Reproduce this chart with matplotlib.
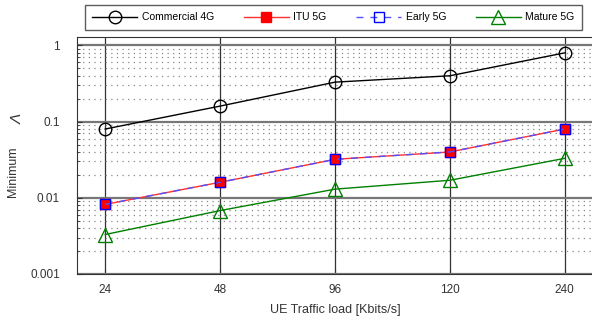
import matplotlib.pyplot as plt
from matplotlib.ticker import LogLocator, FuncFormatter, NullFormatter

plt.rcParams['font.family'] = ['Liberation Sans', 'DejaVu Sans']

loads = ['24', '48', '96', '120', '240']
commercial_4g = [0.08, 0.16, 0.33, 0.40, 0.80]
itu_5g = [0.0082, 0.016, 0.032, 0.040, 0.080]
early_5g = [0.0082, 0.016, 0.032, 0.040, 0.080]
mature_5g = [0.0033, 0.0068, 0.013, 0.017, 0.033]

x = list(range(len(loads)))

fig = plt.figure(figsize=(5.92, 3.2), dpi=100)
ax = fig.add_axes([76.5 / 592, 46 / 320, 517 / 592, 236.7 / 320])

ax.plot(x, commercial_4g, color='black', lw=1, marker='o', ms=9,
        mfc='none', mec='black', mew=1, label='Commercial 4G')
ax.plot(x, itu_5g, color='#ff3030', lw=1, marker='s', ms=7,
        mfc='red', mec='red', label='ITU 5G')
ax.plot(x, early_5g, color='#5050ff', lw=1, ls=(0, (5, 5)), marker='s', ms=7.5,
        mfc='none', mec='blue', mew=1, label='Early 5G')
ax.plot(x, mature_5g, color='green', lw=1, marker='^', ms=10,
        mfc='none', mec='green', mew=1, label='Mature 5G')

ax.set_yscale('log')
ax.set_ylim(0.001, 1.28)
ax.set_xlim(-0.25, 4.25)
ax.set_xticks(x)
ax.set_xticklabels(loads)
ax.yaxis.set_major_locator(LogLocator(base=10, numticks=10))
ax.yaxis.set_major_formatter(FuncFormatter(lambda v, p: '%g' % v))
ax.yaxis.set_minor_locator(LogLocator(base=10, subs=range(2, 10), numticks=20))
ax.yaxis.set_minor_formatter(NullFormatter())

ax.tick_params(axis='both', which='both', direction='in', labelsize=8.5, colors='#333333')
ax.tick_params(axis='x', pad=7)
ax.tick_params(axis='y', pad=12)

ax.grid(axis='x', which='major', color='#333333', lw=0.9)
ax.grid(axis='y', which='major', color='#777777', lw=1.6)
ax.grid(axis='y', which='minor', color='#888888', lw=0.9, ls=(0, (1, 3.5)))
ax.set_axisbelow(True)
for s in ax.spines.values():
    s.set_color('#333333')

ax.set_xlabel('UE Traffic load [Kbits/s]', fontsize=9, color='#333333', labelpad=6)
# y label: "Minimum" plus a larger italic Lambda, as in the original
fig.text(13 / 592, 1 - 172 / 320, 'Minimum', rotation=90, ha='center', va='center',
         fontsize=9, color='#333333')
fig.text(18 / 592, 1 - 118.5 / 320, 'Λ', rotation=90, ha='center', va='center',
         fontsize=11, style='italic', color='#333333')

leg = ax.legend(loc='lower center', bbox_to_anchor=(0.497, 1.03), ncol=4, fontsize=7.5,
                frameon=True, fancybox=False, edgecolor='#333333', handlelength=4.3,
                handletextpad=0.45, columnspacing=2.85, borderpad=0.75, borderaxespad=0)
leg.get_frame().set_linewidth(1)

fig.savefig('out.png', dpi=100)
